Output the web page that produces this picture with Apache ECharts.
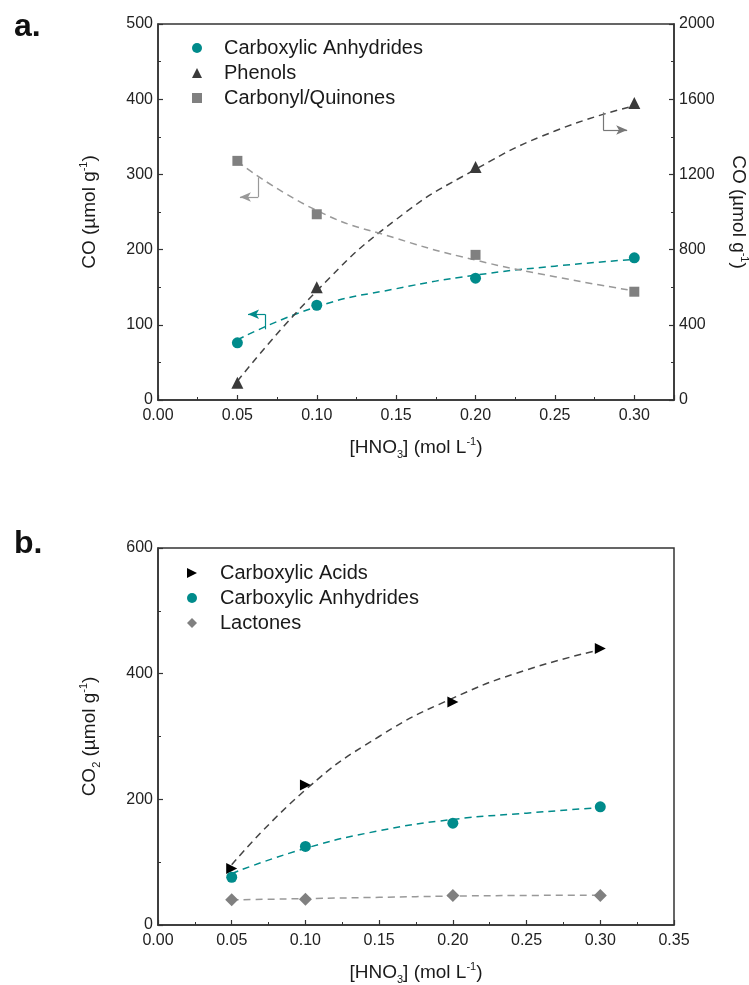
<!DOCTYPE html>
<html>
<head>
<meta charset="utf-8">
<script src="https://cdn.jsdelivr.net/npm/echarts@6/dist/echarts.min.js"></script>
<style>
html,body{margin:0;padding:0;background:#fff;}
#main{width:749px;height:985px;}
</style>
</head>
<body>
<div id="main"></div>
<script>
// ---- data (panel a) ----
const xVals = [0.05, 0.10, 0.20, 0.30];
const fitX = [0.05, 0.10, 0.15, 0.20, 0.25, 0.30];
const aAnhydrides = [76, 126, 162, 189];     // left axis
const aPhenols = [92, 600, 1240, 1580];      // right axis
const aCarbonyl = [318, 247, 193, 144];      // left axis
const aAnhydridesFit = [80, 124, 148, 166, 178, 187];
const aPhenolsFit = [100, 580, 960, 1227, 1431, 1565];
const aCarbonylFit = [317, 252, 215, 186, 164, 145];
// ---- data (panel b) ----
const bAcids = [90, 223, 355, 440];
const bAnhydrides = [76, 125, 162, 188];
const bLactones = [40, 41, 47, 47];
const bAcidsFit = [96, 215, 300, 361, 406, 438];
const bAnhydridesFit = [82, 122, 150, 168, 178, 187];
const bLactonesFit = [40, 42, 44, 46, 47, 47.5];
// ---- tick settings ----
const aXTicks = {min: 0, max: 0.325, interval: 0.05};
const aYLeft = {min: 0, max: 500, interval: 100};
const aYRight = {min: 0, max: 2000, interval: 400};
const bXTicks = {min: 0, max: 0.35, interval: 0.05};
const bY = {min: 0, max: 600, interval: 200};

const TEAL = '#008b8b';
const DARK = '#3a3a3a';
const GREY = '#808080';
const FONT = 'Liberation Sans, Arial, sans-serif';
const pair = (xs, ys) => xs.map((x, i) => [x, ys[i]]);

const nameRich = {
  n: {fontSize: 19, fontFamily: FONT, color: '#1a1a1a', lineHeight: 24},
  sup: {fontSize: 11, fontFamily: FONT, color: '#1a1a1a', verticalAlign: 'top', lineHeight: 11},
  sub: {fontSize: 11, fontFamily: FONT, color: '#1a1a1a', verticalAlign: 'bottom', lineHeight: 11}
};

function xAxisCfg(gridIndex, t) {
  return {
    type: 'value', gridIndex, min: t.min, max: t.max, interval: t.interval,
    name: '{n|[HNO}{sub|3}{n|] (mol L}{sup|-1}{n|)}',
    nameLocation: 'middle', nameGap: 36,
    nameTextStyle: {rich: nameRich, verticalAlign: 'top'},
    axisLine: {show: true, onZero: false, lineStyle: {color: '#333', width: 1.5}},
    axisTick: {show: true, inside: true, length: 5, lineStyle: {color: '#333', width: 1.2}},
    minorTick: {show: true, splitNumber: 2, length: 3, lineStyle: {color: '#333', width: 1}},
    splitLine: {show: false}, minorSplitLine: {show: false},
    axisLabel: {fontSize: 16, fontFamily: FONT, color: '#222', margin: 8, showMaxLabel: t.max === 0.35,
      formatter: v => (Math.abs(v / t.interval - Math.round(v / t.interval)) < 1e-6) ? v.toFixed(2) : ''}
  };
}
function yAxisCfg(gridIndex, t, position, name, gap, rotate) {
  return {
    type: 'value', gridIndex, position, min: t.min, max: t.max, interval: t.interval,
    name, nameLocation: 'middle', nameGap: gap, nameRotate: rotate,
    nameTextStyle: {rich: nameRich},
    axisLine: {show: true, lineStyle: {color: '#333', width: 1.5}},
    axisTick: {show: true, inside: true, length: 5, lineStyle: {color: '#333', width: 1.2}},
    minorTick: {show: true, splitNumber: 2, length: 3, lineStyle: {color: '#333', width: 1}},
    splitLine: {show: false}, minorSplitLine: {show: false},
    axisLabel: {fontSize: 16, fontFamily: FONT, color: '#222', margin: 5, formatter: v => String(v)}
  };
}
function fitSeries(xi, yi, ys, color, extra) {
  return Object.assign({
    type: 'line', xAxisIndex: xi, yAxisIndex: yi, data: pair(fitX, ys), smooth: true,
    symbol: 'none', z: 1, silent: true,
    lineStyle: {color, width: 1.5, type: [7, 5]}
  }, extra || {});
}
function bracket(pts, color) {
  // pts: [x0,y0] -> [x1,y1] (plain), [x1,y1] -> [x2,y2] (arrow)
  return {
    silent: true, symbol: ['none', 'arrow'], symbolSize: 9, label: {show: false},
    lineStyle: {color, width: 1.2, type: 'solid'}, animation: false,
    data: [
      [{coord: pts[0], symbol: 'none'}, {coord: pts[1], symbol: 'none'}],
      [{coord: pts[1], symbol: 'none'}, {coord: pts[2], symbol: 'arrow', symbolSize: [7, 11]}]
    ]
  };
}
function pointSeries(name, xi, yi, ys, symbol, size, color) {
  return {type: 'scatter', name, xAxisIndex: xi, yAxisIndex: yi, data: pair(xVals, ys),
    symbol, symbolSize: size, itemStyle: {color, opacity: 1}, z: 3};
}

const RIGHT_TRI = 'path://M0,0 L10,5 L0,10 Z';

const option = {
  animation: false,
  backgroundColor: '#fff',
  textStyle: {fontFamily: FONT},
  title: [
    {text: 'a.', left: 9, top: 6, textStyle: {fontSize: 32, fontWeight: 'bold', color: '#111', fontFamily: FONT}},
    {text: 'b.', left: 9, top: 523, textStyle: {fontSize: 32, fontWeight: 'bold', color: '#111', fontFamily: FONT}}
  ],
  grid: [
    {left: 158, top: 24, width: 516, height: 376, show: true, borderColor: '#333', borderWidth: 1.5,
      backgroundColor: 'transparent', outerBoundsMode: 'none', containLabel: false},
    {left: 158, top: 548, width: 516, height: 377, show: true, borderColor: '#333', borderWidth: 1.5,
      backgroundColor: 'transparent', outerBoundsMode: 'none', containLabel: false}
  ],
  legend: [
    {orient: 'vertical', left: 192, top: 38, padding: 0, itemGap: 5, itemWidth: 10, itemHeight: 10,
      data: ['Carboxylic Anhydrides', 'Phenols', 'Carbonyl/Quinones'],
      textStyle: {fontSize: 20, fontFamily: FONT, color: '#1a1a1a', padding: [0, 0, 0, 17]}},
    {orient: 'vertical', left: 187, top: 563, padding: 0, itemGap: 5, itemWidth: 10, itemHeight: 10,
      data: ['Carboxylic Acids', {name: 'Carboxylic Anhydrides', itemStyle: {color: TEAL}}, 'Lactones'],
      textStyle: {fontSize: 20, fontFamily: FONT, color: '#1a1a1a', padding: [0, 0, 0, 18]}}
  ],
  xAxis: [xAxisCfg(0, aXTicks), xAxisCfg(1, bXTicks)],
  yAxis: [
    yAxisCfg(0, aYLeft, 'left', '{n|CO (µmol g}{sup|-1}{n|)}', 56, 90),
    yAxisCfg(0, aYRight, 'right', '{n|CO (µmol g}{sup|-1}{n|)}', 52, -90),
    yAxisCfg(1, bY, 'left', '{n|CO}{sub|2}{n| (µmol g}{sup|-1}{n|)}', 56, 90)
  ],
  series: [
    fitSeries(0, 0, aAnhydridesFit, TEAL, {markLine: bracket([[0.0674, 94], [0.0674, 114], [0.0567, 114]], TEAL)}),
    fitSeries(0, 1, aPhenolsFit, '#444', {markLine: bracket([[0.2804, 1530], [0.2804, 1436], [0.2955, 1436]], '#777')}),
    fitSeries(0, 0, aCarbonylFit, '#999', {markLine: bracket([[0.0632, 296], [0.0632, 270], [0.0516, 270]], '#999')}),
    pointSeries('Carboxylic Anhydrides', 0, 0, aAnhydrides, 'circle', 11, TEAL),
    pointSeries('Phenols', 0, 1, aPhenols, 'triangle', 12, DARK),
    pointSeries('Carbonyl/Quinones', 0, 0, aCarbonyl, 'rect', 10, GREY),

    fitSeries(1, 2, bAcidsFit, '#444'),
    fitSeries(1, 2, bAnhydridesFit, TEAL),
    fitSeries(1, 2, bLactonesFit, '#999'),
    pointSeries('Carboxylic Acids', 1, 2, bAcids, RIGHT_TRI, 11, '#000'),
    pointSeries('Carboxylic Anhydrides', 1, 2, bAnhydrides, 'circle', 11, TEAL),
    pointSeries('Lactones', 1, 2, bLactones, 'diamond', 13, GREY)
  ]
};

const chart = echarts.init(document.getElementById('main'), null, {renderer: 'canvas'});
chart.setOption(option);
</script>
</body>
</html>
